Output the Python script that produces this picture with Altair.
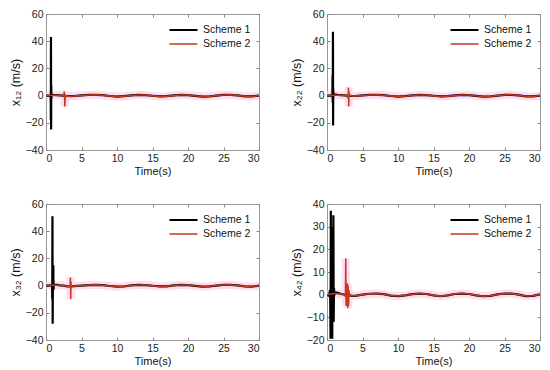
import altair as alt
import pandas as pd

# ---------------- data ----------------
WAVE_T = [4, 5, 6, 7, 8, 9, 10, 11, 12, 13, 14, 15, 16, 17, 18, 19, 20, 21, 22, 23, 24, 25, 26, 27, 28, 29, 30]

WAVE_1 = [-0.3, 0.1, 0.5, 0.6, 0.3, -0.3, -0.7, -0.4, 0.1, 0.5, 0.4, -0.1, -0.6, -0.4, 0.1, 0.5, 0.4, -0.2, -0.7, -0.5, 0.0, 0.5, 0.6, 0.1, -0.5, -0.6, 0.0]
WAVE_2 = [-0.3, 0.1, 0.5, 0.6, 0.3, -0.3, -0.7, -0.4, 0.1, 0.5, 0.4, -0.1, -0.6, -0.4, 0.1, 0.5, 0.4, -0.2, -0.7, -0.5, 0.0, 0.5, 0.6, 0.1, -0.5, -0.6, 0.0]
WAVE_3 = [-0.4, 0.0, 0.4, 0.6, 0.3, -0.3, -0.8, -0.5, 0.1, 0.5, 0.4, -0.1, -0.6, -0.5, 0.1, 0.5, 0.4, -0.2, -0.7, -0.6, 0.0, 0.5, 0.6, 0.1, -0.5, -0.7, 0.0]
WAVE_4 = [-0.5, 0.0, 0.4, 0.5, 0.2, -0.4, -0.6, -0.3, 0.2, 0.5, 0.3, -0.3, -0.7, -0.3, 0.3, 0.5, 0.3, -0.3, -0.7, -0.5, 0.1, 0.5, 0.5, 0.0, -0.6, -0.5, 0.1]

# Scheme 1 (black) early transient
S1_T_1 = [0, 0.5, 0.66, 0.68, 0.70, 0.72, 0.74, 0.76, 0.8, 1.0, 1.5, 2.0, 2.5, 3.0, 3.5]
S1_V_1 = [0, 0, 0.5, -18, 43, -25, 8, -2, 0.8, 0.6, 0.4, 0.2, 0, -0.3, -0.4]
S1_T_2 = [0, 0.5, 0.76, 0.78, 0.80, 0.82, 0.84, 0.86, 0.88, 0.92, 1.0, 1.5, 2, 2.5, 3, 3.5]
S1_V_2 = [0, 0, 0.5, 15, -5, 14, 47, -22, 5, 0, 0.8, 0.5, 0.3, 0.1, -0.2, -0.3]
S1_T_3 = [0, 0.5, 0.85, 0.88, 0.91, 0.94, 0.97, 1.0, 1.03, 1.06, 1.1, 1.2, 1.5, 2, 2.5, 3, 3.5]
S1_V_3 = [0, 0, 0.5, -10, 51, -28, 5, 0, 15, -3, 1, 0.6, 0.5, 0.2, 0, -0.5, -0.6]
S1_T_4 = [0, 0.3, 0.42, 0.46, 0.5, 0.54, 0.58, 0.62, 0.66, 0.7, 0.74, 0.78, 0.82, 0.86, 0.9, 0.94, 0.98, 1.05, 1.2, 1.5, 2, 2.5, 3, 3.5]
S1_V_4 = [0, -0.5, 2, -3, -19.5, 37, -19.5, 30, -19.5, 25, -19.5, 14, -12, 10, 35, -12, 3, 0, 1, 0.8, 0.3, 0, -0.3, -0.5]

# Scheme 2 (red) early transient
S2_T_1 = [0, 1, 2, 2.5, 2.58, 2.62, 2.66, 2.70, 2.74, 2.8, 3.0, 3.5]
S2_V_1 = [0, 0.3, 0.2, 0, 3, -3, -8, 1, -2, 0, -0.5, -0.4]
S2_T_2 = [0, 1, 2, 2.8, 2.98, 3.02, 3.06, 3.10, 3.14, 3.2, 3.5]
S2_V_2 = [0, 0.3, 0.2, 0, -2, 6, -8, 3, -1, 0.5, -0.3]
S2_T_3 = [0, 1, 2, 3, 3.3, 3.4, 3.44, 3.48, 3.52, 3.56, 3.62, 3.8]
S2_V_3 = [0, 0.3, 0.2, -0.5, -0.5, 0, 6, -10, 3, -2, 0, -0.4]
S2_T_4 = [0, 1, 2, 2.5, 2.6, 2.64, 2.68, 2.72, 2.76, 2.8, 2.86, 2.92, 2.98, 3.04, 3.1, 3.16, 3.22, 3.3, 3.5]
S2_V_4 = [0, 0.5, 0.3, 0, -1, 16, -4, -5, 1, -2, 5, -6, 4, -5, 2, -1, 0.5, -0.5, -0.5]

Y_TITLES = ["x\u2081\u2082 (m/s)", "x\u2082\u2082 (m/s)", "x\u2083\u2082 (m/s)", "x\u2084\u2082 (m/s)"]
Y_DOMAINS = [[-40, 60], [-40, 60], [-40, 60], [-20, 40]]
Y_TICKS = [[-40, -20, 0, 20, 40, 60]] * 3 + [[-20, -10, 0, 10, 20, 30, 40]]
X_TICKS = [0, 5, 10, 15, 20, 25, 30]
SERIES = ["Scheme 1", "Scheme 2"]
COLORS = ["#000000", "#c23a20"]

panels = [
    (S1_T_1, S1_V_1, S2_T_1, S2_V_1, WAVE_1),
    (S1_T_2, S1_V_2, S2_T_2, S2_V_2, WAVE_2),
    (S1_T_3, S1_V_3, S2_T_3, S2_V_3, WAVE_3),
    (S1_T_4, S1_V_4, S2_T_4, S2_V_4, WAVE_4),
]

FONT = "Liberation Sans"
TICK = dict(grid=False, domain=False, tickSize=3, tickColor="#888", offset=-3)
charts = []
for i, (t1, v1, t2, v2, wave) in enumerate(panels):
    rows = []
    for t, v in zip(t1 + WAVE_T, v1 + wave):
        rows.append({"t": t, "v": v, "s": SERIES[0]})
    for t, v in zip(t2 + WAVE_T, v2 + wave):
        rows.append({"t": t, "v": v, "s": SERIES[1]})
    df = pd.DataFrame(rows)

    xs = alt.Scale(domain=[0, 30], nice=False)
    ys = alt.Scale(domain=Y_DOMAINS[i], nice=False, zero=False)

    # pink halo under scheme 2; carries the top/right tick-only axes (box style)
    halo = alt.Chart(df).transform_filter(alt.datum.s == SERIES[1]).mark_line(
        color="#ffd2ec", strokeWidth=8, opacity=0.75, clip=True
    ).encode(
        x=alt.X("t:Q", scale=xs, axis=alt.Axis(orient="top", values=X_TICKS, labels=False,
                                               title=None, **TICK)),
        y=alt.Y("v:Q", scale=ys, axis=alt.Axis(orient="right", values=Y_TICKS[i], labels=False,
                                               title=None, **TICK)),
        order="t:Q",
    )

    lines = alt.Chart(df).mark_line(clip=True).encode(
        x=alt.X("t:Q", title="Time(s)", scale=xs,
                axis=alt.Axis(values=X_TICKS, labelPadding=3, titlePadding=2, **TICK)),
        y=alt.Y("v:Q", title=Y_TITLES[i], scale=ys,
                axis=alt.Axis(values=Y_TICKS[i], labelPadding=3, titlePadding=3,
                              titleFontSize=12.5, **TICK)),
        order="t:Q",
        color=alt.Color("s:N", scale=alt.Scale(domain=SERIES, range=COLORS),
                        legend=alt.Legend(title=None, orient="none", legendX=122, legendY=9,
                                          symbolType="stroke", symbolSize=784,
                                          symbolStrokeWidth=2.2, labelFontSize=10.5,
                                          labelFont=FONT, labelColor="#111",
                                          clipHeight=14, rowPadding=0, labelOffset=4)),
        strokeWidth=alt.StrokeWidth("s:N", scale=alt.Scale(domain=SERIES, range=[2.2, 1.5]),
                                    legend=None),
    )
    charts.append(alt.layer(halo, lines).resolve_axis(x="independent", y="independent")
                  .properties(width=213, height=136))

chart = alt.concat(*charts, columns=2, spacing={"row": 54, "column": 68}, bounds="flush") \
    .resolve_legend(color="independent", strokeWidth="independent") \
    .resolve_scale(color="independent", strokeWidth="independent") \
    .properties(padding={"left": 0, "top": 0, "right": 0, "bottom": 0}) \
    .configure_view(stroke="#999", strokeWidth=1) \
    .configure_axis(labelFont=FONT, titleFont=FONT, labelFontSize=10.5, titleFontSize=11,
                    titleFontWeight="normal", labelColor="#222", titleColor="#111")

chart.save("out.html", embed_options={"renderer": "svg", "actions": False})
